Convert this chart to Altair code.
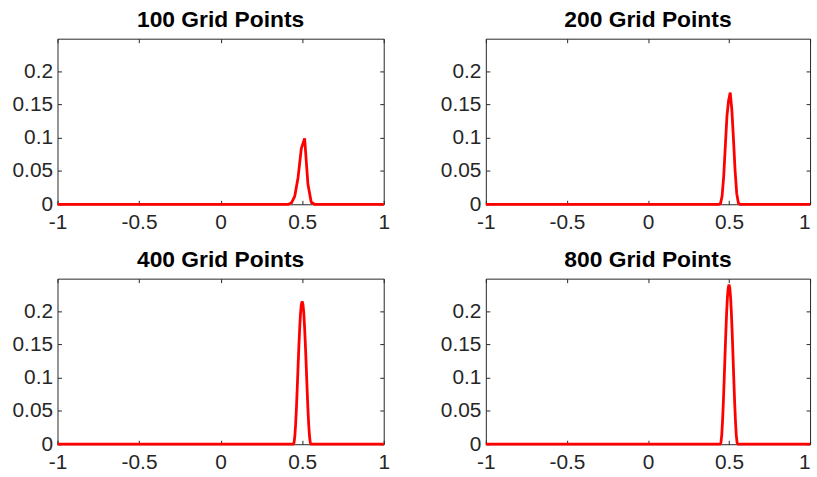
import altair as alt
import pandas as pd

# Panel titles (grid resolution of each run)
titles = ["100 Grid Points", "200 Grid Points", "400 Grid Points", "800 Grid Points"]

# 100-point grid: samples around the pulse, flat zero elsewhere
x100 = [-1.0, 0.4141, 0.4343, 0.4545, 0.4747, 0.4949, 0.5152, 0.5354, 0.5556, 0.5758, 1.0]
y100 = [0.0, 0.0, 0.002, 0.012, 0.040, 0.084, 0.099, 0.030, 0.003, 0.0, 0.0]

# 200-point grid
x200 = [-1.0, 0.4372, 0.4472, 0.4573, 0.4673, 0.4774, 0.4874, 0.4975, 0.5075,
        0.5176, 0.5276, 0.5377, 0.5477, 0.5578, 0.5678, 1.0]
y200 = [0.0, 0.0, 0.001, 0.012, 0.042, 0.088, 0.133, 0.156, 0.168,
        0.142, 0.098, 0.050, 0.016, 0.002, 0.0, 0.0]

# 400-point grid
x400 = [-1.0, 0.440, 0.445, 0.450, 0.455, 0.460, 0.465, 0.470, 0.475, 0.480, 0.485,
        0.490, 0.495, 0.500, 0.505, 0.510, 0.515, 0.520, 0.525, 0.530, 0.535,
        0.540, 0.545, 0.550, 0.555, 0.560, 1.0]
y400 = [0.0, 0.0, 0.0, 0.002, 0.012, 0.030, 0.055, 0.085, 0.117, 0.148, 0.175,
        0.197, 0.210, 0.215, 0.210, 0.197, 0.175, 0.148, 0.117, 0.085, 0.055,
        0.030, 0.012, 0.002, 0.0, 0.0, 0.0]

# 800-point grid
x800 = [-1.0, 0.440, 0.445, 0.450, 0.455, 0.460, 0.465, 0.470, 0.475, 0.480, 0.485,
        0.490, 0.495, 0.500, 0.505, 0.510, 0.515, 0.520, 0.525, 0.530, 0.535,
        0.540, 0.545, 0.550, 0.555, 0.560, 1.0]
y800 = [0.0, 0.0, 0.0, 0.002, 0.013, 0.034, 0.062, 0.095, 0.131, 0.165, 0.196,
        0.220, 0.235, 0.240, 0.235, 0.220, 0.196, 0.165, 0.131, 0.095, 0.062,
        0.034, 0.013, 0.002, 0.0, 0.0, 0.0]

x_ticks = [-1, -0.5, 0, 0.5, 1]
y_ticks = [0, 0.05, 0.1, 0.15, 0.2]

INK = "#262626"
FONT = "Liberation Sans"
H = 167
TICK = 4


def panel(title, xs, ys, right_column=False):
    df = pd.DataFrame({"x": xs, "y": ys})
    xscale = alt.Scale(domain=[-1, 1], nice=False, zero=False)
    yscale = alt.Scale(domain=[0, 0.249], nice=False, zero=False)

    # the right-hand column runs to the page edge, so its last x label is kept inside
    if right_column:
        width = 327
        x_align = {"condition": {"test": "datum.value === 1", "value": "right"},
                   "value": "center"}
    else:
        width = 329
        x_align = "center"

    # curve with the labelled bottom/left axes, ticks pointing inward
    curve = alt.Chart(df).mark_line(color="#ff0000", strokeWidth=2.8, clip=False).encode(
        x=alt.X("x:Q", scale=xscale, title=None,
                axis=alt.Axis(orient="bottom", values=x_ticks, labelExpr="'' + datum.value",
                              labelAlign=x_align, offset=-TICK, tickSize=TICK,
                              labelPadding=7, domain=False, minExtent=0)),
        y=alt.Y("y:Q", scale=yscale, title=None,
                axis=alt.Axis(orient="left", values=y_ticks, labelExpr="'' + datum.value",
                              offset=-TICK, tickSize=TICK, labelPadding=5, domain=False,
                              minExtent=0)),
    )
    # invisible copy carrying the mirrored top/right tick marks
    mirror = alt.Chart(df).mark_line(opacity=0).encode(
        x=alt.X("x:Q", scale=xscale, title=None,
                axis=alt.Axis(orient="top", values=x_ticks, labels=False,
                              offset=-TICK, tickSize=TICK, domain=False,
                              minExtent=0, maxExtent=0)),
        y=alt.Y("y:Q", scale=yscale, title=None,
                axis=alt.Axis(orient="right", values=y_ticks, labels=False,
                              offset=-TICK, tickSize=TICK, domain=False,
                              minExtent=0, maxExtent=0)),
    )
    return (
        alt.layer(curve, mirror)
        .resolve_axis(x="independent", y="independent")
        .properties(
            width=width,
            height=H,
            title=alt.TitleParams(title, font=FONT, fontSize=23, fontWeight="bold",
                                  color="black", anchor="middle", frame="group",
                                  baseline="alphabetic", offset=-12),
        )
    )


panels = [
    panel(titles[0], x100, y100),
    panel(titles[1], x200, y200, right_column=True),
    panel(titles[2], x400, y400),
    panel(titles[3], x800, y800, right_column=True),
]

chart = (
    alt.concat(*panels, columns=2, spacing={"row": 75, "column": 103}, bounds="flush")
    .properties(
        padding={"left": 11, "top": 7, "right": 0, "bottom": 0},
        background="white",
    )
    .configure_axis(labelFont=FONT, labelFontSize=21, labelColor=INK,
                    tickColor=INK, tickWidth=1, grid=False)
    .configure_view(stroke=INK, strokeWidth=1)
)

chart.save("out.html", embed_options={"renderer": "svg", "actions": False})
